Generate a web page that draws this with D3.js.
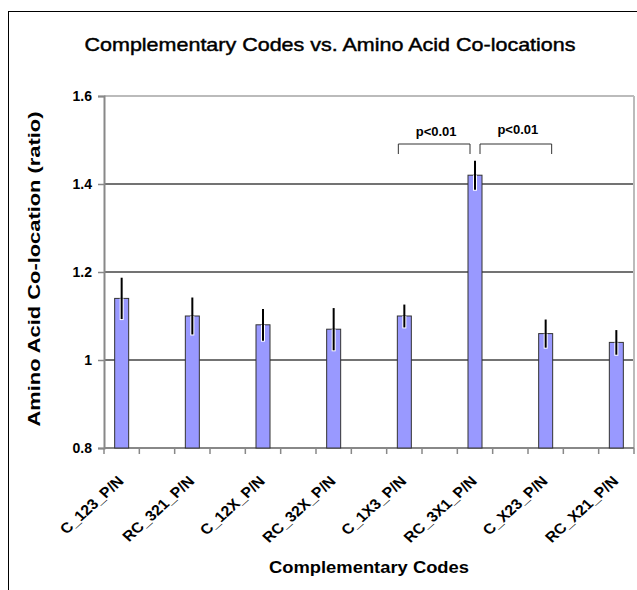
<!DOCTYPE html>
<html><head><meta charset="utf-8">
<script src="https://cdn.jsdelivr.net/npm/d3@7"></script>
<style>
body{margin:0;background:#fff;}
text{font-family:"Liberation Sans",Arial,sans-serif;fill:#000;}
</style></head>
<body><svg id="c" width="637" height="590"></svg>
<script>
const categories = ["C_123_P/N","","RC_321_P/N","","C_12X_P/N","","RC_32X_P/N","","C_1X3_P/N","","RC_3X1_P/N","","C_X23_P/N","","RC_X21_P/N"];
const values =     [1.14, null, 1.10, null, 1.08, null, 1.07, null, 1.10, null, 1.42, null, 1.06, null, 1.04];
const errors =     [0.047,null, 0.042,null, 0.036,null, 0.048,null, 0.026,null, 0.033,null, 0.032,null, 0.028];
const yTicks = [0.8, 1, 1.2, 1.4, 1.6];
const yTickLabels = ["0.8","1","1.2","1.4","1.6"];
const brackets = [{from:8,to:10,label:"p<0.01"},{from:10,to:12,label:"p<0.01"}];
const titleText = "Complementary Codes vs. Amino Acid Co-locations";
const xTitle = "Complementary Codes";
const yTitle = "Amino Acid Co-location (ratio)";

const svg = d3.select("#c");
const L=104, R=634, T=96, B=448;
const SX = 1.1; // horizontal text stretch seen in the reference

svg.append("rect").attr("x",8.5).attr("y",11.5).attr("width",700).attr("height",700)
  .attr("fill","#fff").attr("stroke","#000").attr("stroke-width",1);

const x = d3.scaleBand().domain(d3.range(categories.length)).range([L,R]).paddingInner(0).paddingOuter(0);
const y = d3.scaleLinear().domain([0.8,1.6]).range([B,T]);

svg.append("g").selectAll("line").data(yTicks.filter(v=>v>0.8 && v<1.6)).join("line")
  .attr("x1",L).attr("x2",R).attr("y1",d=>y(d)).attr("y2",d=>y(d))
  .attr("stroke","#444").attr("stroke-width",1.5);
svg.append("line").attr("x1",L).attr("x2",R).attr("y1",y(1.6)).attr("y2",y(1.6)).attr("stroke","#bbb").attr("stroke-width",2);
svg.append("line").attr("x1",R).attr("x2",R).attr("y1",T).attr("y2",B).attr("stroke","#bbb").attr("stroke-width",2);

const yAxis = d3.axisLeft(y).tickValues(yTicks).tickFormat((d,i)=>yTickLabels[i]).tickSize(6).tickPadding(6);
const gy = svg.append("g").attr("transform",`translate(${L},0)`).call(yAxis);
gy.select(".domain").attr("stroke","#888").attr("stroke-width",2);
gy.selectAll(".tick line").attr("stroke","#888").attr("stroke-width",1.5);
gy.selectAll(".tick text").attr("font-size",14).attr("font-weight","bold").attr("font-family","Liberation Sans, Arial, sans-serif").attr("fill","#000");

const gx = svg.append("g").attr("transform",`translate(0,${B})`);
gx.append("line").attr("x1",L).attr("x2",R).attr("stroke","#888").attr("stroke-width",2);
gx.selectAll("line.t").data(d3.range(categories.length+1)).join("line").attr("class","t")
  .attr("x1",i=>L+i*x.bandwidth()).attr("x2",i=>L+i*x.bandwidth()).attr("y1",0).attr("y2",6)
  .attr("stroke","#888").attr("stroke-width",1.5);
gx.selectAll("text").data(categories.map((c,i)=>({c,i})).filter(d=>d.c)).join("text")
  .attr("transform",d=>`translate(${x(d.i)+x.bandwidth()/2+3},34) scale(${SX},1) rotate(-45)`)
  .attr("text-anchor","end").attr("font-size",14.5).attr("font-weight","bold").text(d=>d.c);

const bw = 14;
const data = categories.map((c,i)=>({c,i,v:values[i],e:errors[i]})).filter(d=>d.v!=null);
svg.append("g").selectAll("rect").data(data).join("rect")
  .attr("x",d=>x(d.i)+x.bandwidth()/2-bw/2).attr("width",bw)
  .attr("y",d=>y(d.v)).attr("height",d=>y(0.8)-y(d.v))
  .attr("fill","#9999ff").attr("stroke","#333").attr("stroke-width",1);
const eg = svg.append("g");
eg.selectAll("line.h").data(data).join("line").attr("class","h")
  .attr("x1",d=>x(d.i)+x.bandwidth()/2).attr("x2",d=>x(d.i)+x.bandwidth()/2)
  .attr("y1",d=>y(d.v)).attr("y2",d=>y(d.v-d.e)+1)
  .attr("stroke","#fff").attr("stroke-width",4);
eg.selectAll("line.e").data(data).join("line").attr("class","e")
  .attr("x1",d=>x(d.i)+x.bandwidth()/2).attr("x2",d=>x(d.i)+x.bandwidth()/2)
  .attr("y1",d=>y(d.v+d.e)).attr("y2",d=>y(d.v-d.e))
  .attr("stroke","#000").attr("stroke-width",2);

const cx = i=>x(i)+x.bandwidth()/2;
const bY = 144, bDrop = 10;
brackets.forEach((b,k)=>{
  const x1 = k===0 ? cx(b.from)-6 : cx(b.from)+5;
  const x2 = k===0 ? cx(b.to)-5 : cx(b.to)+6;
  svg.append("path").attr("d",`M${x1},${bY+bDrop}V${bY}H${x2}V${bY+bDrop}`)
    .attr("fill","none").attr("stroke","#333").attr("stroke-width",1);
  svg.append("text").attr("x",(x1+x2)/2+2).attr("y",k===0?136:134).attr("text-anchor","middle")
    .attr("font-size",13).attr("font-weight","bold").text(b.label);
});

svg.append("text").attr("x",330).attr("y",51).attr("text-anchor","middle").attr("font-size",19)
  .attr("stroke","#000").attr("stroke-width",0.45)
  .attr("textLength",491).attr("lengthAdjust","spacingAndGlyphs").text(titleText);
svg.append("text").attr("x",(L+R)/2).attr("y",573).attr("text-anchor","middle").attr("font-size",16).attr("font-weight","bold")
  .attr("textLength",200).attr("lengthAdjust","spacingAndGlyphs").text(xTitle);
svg.append("text").attr("transform",`translate(40,${(T+B)/2-3}) rotate(-90)`).attr("text-anchor","middle")
  .attr("font-size",16).attr("font-weight","bold").attr("textLength",315).attr("lengthAdjust","spacingAndGlyphs").text(yTitle);
</script></body></html>
